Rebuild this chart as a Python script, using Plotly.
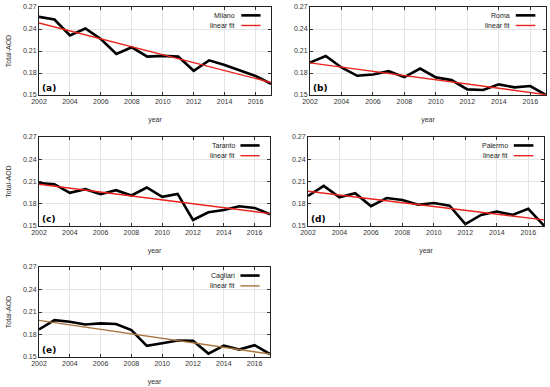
import plotly.graph_objects as go

years = list(range(2002, 2018))

milano = [0.2565, 0.2529, 0.2312, 0.2407, 0.2262, 0.2060, 0.2150, 0.2023,
          0.2033, 0.2023, 0.1830, 0.1973, 0.1910, 0.1834, 0.1760, 0.1653]
roma = [0.1942, 0.2032, 0.1875, 0.1762, 0.1780, 0.1825, 0.1744, 0.1861,
        0.1740, 0.1703, 0.1577, 0.1568, 0.1645, 0.1604, 0.1622, 0.1500]
taranto = [0.2078, 0.2064, 0.1947, 0.1997, 0.1929, 0.1983, 0.1911, 0.2019,
           0.1893, 0.1933, 0.1581, 0.1685, 0.1717, 0.1766, 0.1744, 0.1658]
palermo = [0.1905, 0.2041, 0.1886, 0.1941, 0.1768, 0.1877, 0.1850, 0.1786,
           0.1809, 0.1773, 0.1527, 0.1650, 0.1695, 0.1650, 0.1732, 0.1505]
cagliari = [0.1867, 0.1992, 0.1970, 0.1934, 0.1948, 0.1939, 0.1858, 0.1648,
            0.1683, 0.1719, 0.1715, 0.1545, 0.1652, 0.1599, 0.1657, 0.1540]

fit_years = [2002, 2017]
fit_milano = [0.2483, 0.1671]
fit_roma = [0.1938, 0.1505]
fit_taranto = [0.2064, 0.1667]
fit_palermo = [0.1968, 0.1582]
fit_cagliari = [0.1988, 0.1540]

names = ["Milano", "Roma", "Taranto", "Palermo", "Cagliari"]
series = [milano, roma, taranto, palermo, cagliari]
fits = [fit_milano, fit_roma, fit_taranto, fit_palermo, fit_cagliari]
labels = ["(a)", "(b)", "(c)", "(d)", "(e)"]
fit_colors = ["#e8231c", "#e8231c", "#e8231c", "#e8231c", "#a8743c"]

x_ticks = list(range(2002, 2018, 2))
y_ticks = [0.15, 0.18, 0.21, 0.24, 0.27]

W, H = 550, 387
# panel boxes in pixels: (left, right, top, bottom)
boxes = [(39, 271, 7, 95), (310, 546, 7, 95),
         (39, 270, 137, 226), (308, 544, 137, 226),
         (39, 270, 267, 357)]

fig = go.Figure()
font = "Liberation Sans, Arial, sans-serif"

for i, (name, ys, fy, lab, fc, box) in enumerate(zip(names, series, fits, labels, fit_colors, boxes)):
    n = i + 1
    xa = "x" if n == 1 else f"x{n}"
    ya = "y" if n == 1 else f"y{n}"
    fig.add_trace(go.Scatter(x=years, y=ys, mode="lines", line=dict(color="black", width=2.6),
                             xaxis=xa, yaxis=ya, showlegend=False, name=name))
    fig.add_trace(go.Scatter(x=fit_years, y=fy, mode="lines", line=dict(color=fc, width=1.4),
                             xaxis=xa, yaxis=ya, showlegend=False, name="linear fit"))
    l, r, t, b = box
    xdom = [l / W, r / W]
    ydom = [1 - b / H, 1 - t / H]
    axkey = "xaxis" if n == 1 else f"xaxis{n}"
    aykey = "yaxis" if n == 1 else f"yaxis{n}"
    fig.update_layout(**{
        axkey: dict(domain=xdom, anchor=ya, range=[2002, 2017], tickvals=x_ticks, automargin=False,
                    ticks="inside", ticklen=3, tickcolor="#333", showline=True, linecolor="#222",
                    linewidth=1, mirror="ticks", showgrid=True, gridcolor="#e4e4e4", gridwidth=0.6,
                    zeroline=False, tickfont=dict(size=7, color="#333", family=font),
                    title=dict(text="year", font=dict(size=7, color="#333", family=font), standoff=12)),
        aykey: dict(domain=ydom, anchor=xa, range=[0.15, 0.27], tickvals=y_ticks, automargin=False,
                    ticktext=[f"{v:.2f}" for v in y_ticks],
                    ticks="inside", ticklen=3, tickcolor="#333", showline=True, linecolor="#222",
                    linewidth=1, mirror="ticks", showgrid=True, gridcolor="#e4e4e4", gridwidth=0.6,
                    zeroline=False, tickfont=dict(size=7, color="#333", family=font),
                    title=dict(text="Total-AOD" if l < 100 else "",
                               font=dict(size=7, color="#333", family=font), standoff=10)),
    })
    xd = "x domain" if n == 1 else f"x{n} domain"
    yd = "y domain" if n == 1 else f"y{n} domain"
    # panel label
    fig.add_annotation(xref=xd, yref=yd, x=0.005, y=0.0, xanchor="left", yanchor="bottom",
                       text=f"<b>{lab}</b>", showarrow=False,
                       font=dict(size=9, color="black", family="DejaVu Sans, sans-serif"))
    # legend
    for j, (txt, col, wd) in enumerate([(name, "black", 2.6), ("linear fit", fc, 1.4)]):
        yy = 0.905 - j * 0.115
        fig.add_annotation(xref=xd, yref=yd, x=0.855, y=yy, xanchor="right", yanchor="middle",
                           text=txt, showarrow=False,
                           font=dict(size=7, color="#222", family=font))
        fig.add_shape(type="line", xref=xd, yref=yd, x0=0.872, x1=0.955, y0=yy, y1=yy,
                      line=dict(color=col, width=wd))

fig.update_layout(width=W, height=H, margin=dict(l=0, r=0, t=0, b=0, autoexpand=False),
                  plot_bgcolor="white", paper_bgcolor="white")
fig.write_html("out.html", config={"displayModeBar": False},
               post_script="document.body.style.margin='0px';document.body.style.overflow='hidden';")
